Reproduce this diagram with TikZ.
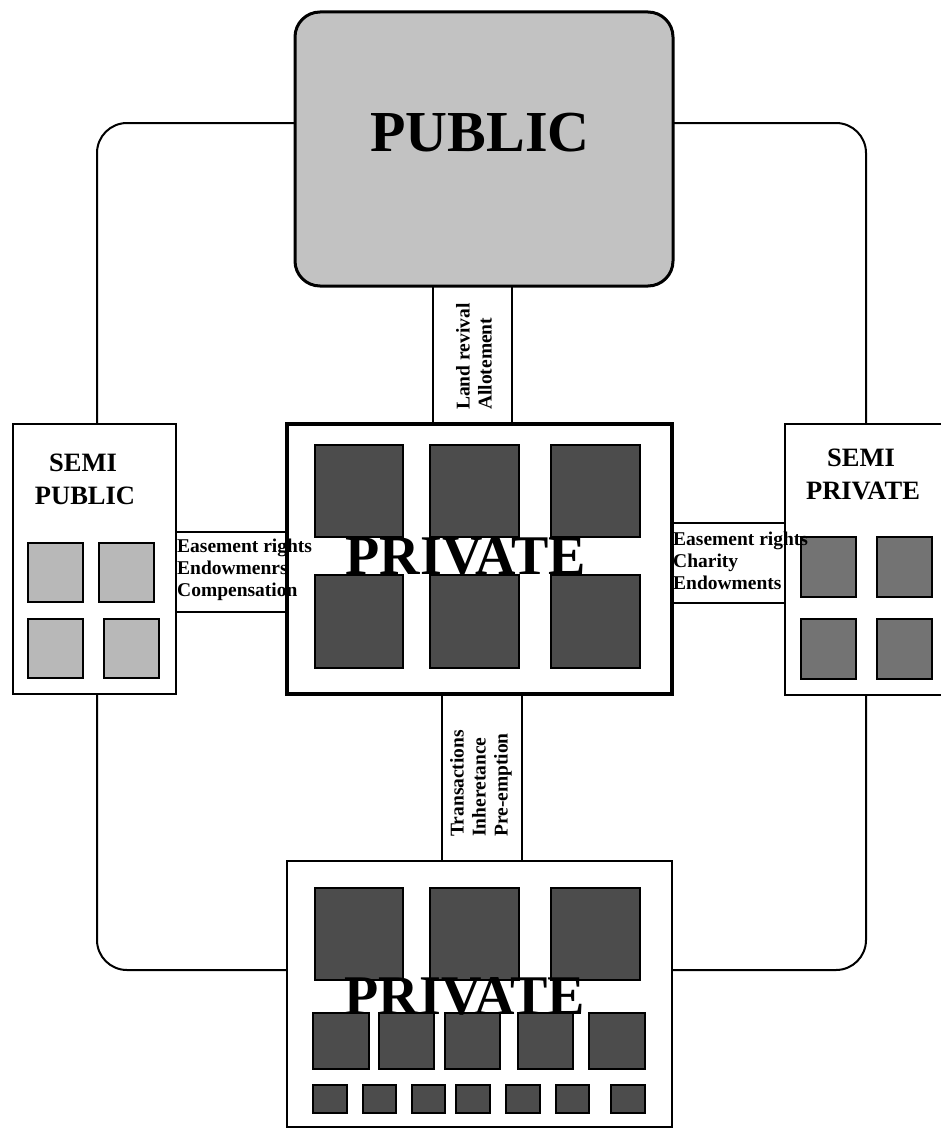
\documentclass[tikz,border=0pt]{standalone}
\usepackage{fontspec}
\setmainfont{Liberation Serif}
\definecolor{pubfill}{gray}{0.76}
\definecolor{spubfill}{gray}{0.72}
\definecolor{sprivfill}{gray}{0.45}
\definecolor{darkfill}{gray}{0.30}
\begin{document}
\begin{tikzpicture}[x=1pt,y=-1pt,
  box/.style={draw, fill=white, line width=2.5pt, inner sep=0pt, outer sep=0pt, anchor=north west},
  strip/.style={draw, fill=white, line width=2.5pt, inner sep=0pt, outer sep=0pt, anchor=north west},
  dsq/.style={draw=black, fill=darkfill, line width=2.2pt},
  lsq/.style={draw=black, fill=spubfill, line width=2.5pt},
  hsq/.style={draw=black, fill=sprivfill, line width=2.5pt},
  lbl/.style={font=\bfseries\fontsize{19.5}{22}\selectfont, align=left, inner sep=0pt},
  bigtxt/.style={font=\bfseries\fontsize{58}{60}\selectfont, inner sep=0pt},
  midtxt/.style={font=\bfseries\fontsize{56}{58}\selectfont, inner sep=0pt},
  semitxt/.style={font=\bfseries\fontsize{26.5}{30}\selectfont, inner sep=0pt}
]
\useasboundingbox (0,0) rectangle (940,1132);
% surrounding ring
\draw[line width=2pt, rounded corners=30pt] (97,123) rectangle (866,970);
% connector strips
\node[strip, minimum width=79pt, minimum height=138pt] (cland) at (433,286) {};
\node[strip, minimum width=112pt, minimum height=80pt] (cleft) at (176,532) {};
\node[strip, minimum width=113pt, minimum height=80pt] (cright) at (672,523) {};
\node[strip, minimum width=80pt, minimum height=167pt] (cbot) at (442,694) {};
% boxes
\node[box, fill=pubfill, line width=3pt, rounded corners=25pt, minimum width=378pt, minimum height=274pt] (pub) at (295,12) {};
\node[box, line width=4.5pt, minimum width=385pt, minimum height=270pt] (priv) at (287,424) {};
\node[box, minimum width=163pt, minimum height=270pt] (spub) at (13,424) {};
\node[box, minimum width=175pt, minimum height=271pt] (spriv) at (785,424) {};
\node[box, minimum width=385pt, minimum height=266pt] (privb) at (287,861) {};
% squares: private areas
\foreach \a/\b in {315/403,430/519,551/640}{
  \filldraw[dsq] (\a,445) rectangle (\b,537);
  \filldraw[dsq] (\a,575) rectangle (\b,668);
  \filldraw[dsq] (\a,888) rectangle (\b,980);
}
\foreach \a/\b in {313/369,379/434,445/500,518/573,589/645}{
  \filldraw[dsq] (\a,1013) rectangle (\b,1069);
}
\foreach \a/\b in {313/347,363/396,412/445,456/490,506/540,556/589,611/645}{
  \filldraw[dsq] (\a,1085) rectangle (\b,1113);
}
% semi public squares
\filldraw[lsq] (28,543) rectangle (83,602);
\filldraw[lsq] (99,543) rectangle (154,602);
\filldraw[lsq] (28,619) rectangle (83,678);
\filldraw[lsq] (104,619) rectangle (159,678);
% semi private squares
\filldraw[hsq] (801,537) rectangle (856,597);
\filldraw[hsq] (877,537) rectangle (932,597);
\filldraw[hsq] (801,619) rectangle (856,679);
\filldraw[hsq] (877,619) rectangle (932,679);
% titles
\node[bigtxt] (tpub) at (480,133) {PUBLIC};
\node[midtxt] (tpriv) at (466,556) {PRIVATE};
\node[midtxt] (tprivb) at (465,996) {PRIVATE};
\node[semitxt] (tspub1) at (83,463) {SEMI};
\node[semitxt] (tspub2) at (85,496) {PUBLIC};
\node[semitxt] (tspriv1) at (861,458) {SEMI};
\node[semitxt] (tspriv2) at (863,491) {PRIVATE};
% connector labels
\node[lbl, rotate=90, anchor=west] (lland) at (474,410) {Land revival\\Allotement};
\node[lbl, anchor=west] (lleft) at (177,570) {Easement rights\\Endowmenrs\\Compensation};
\node[lbl, anchor=west] (lright) at (673,561) {Easement rights\\Charity\\Endowments};
\node[lbl, rotate=90, anchor=west] (lbot) at (481,837) {Transactions\\Inheretance\\Pre-emption};
\end{tikzpicture}
\end{document}
